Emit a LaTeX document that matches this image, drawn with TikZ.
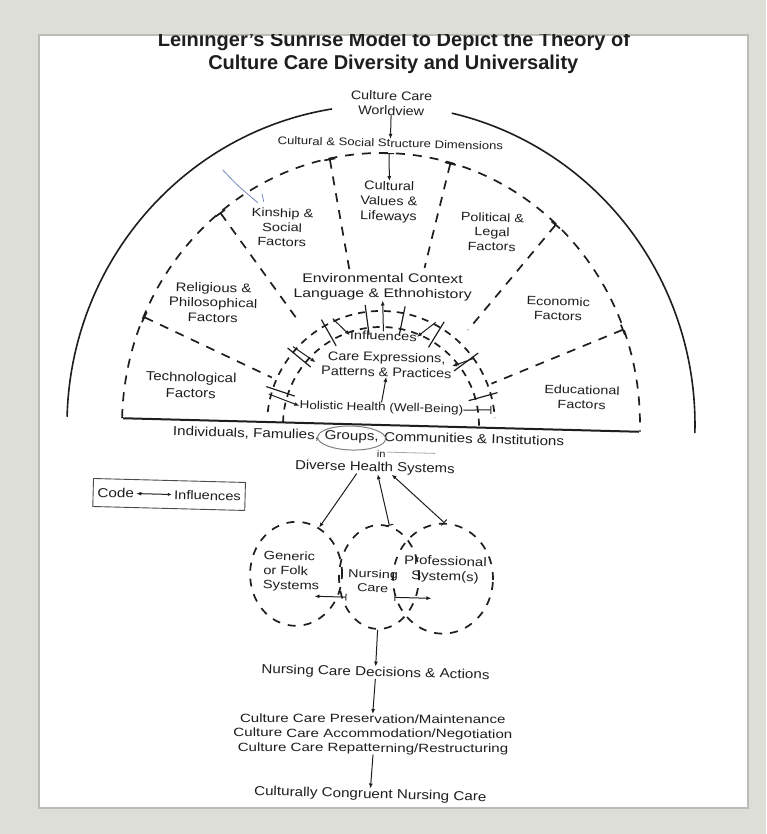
\documentclass[tikz,border=0pt]{standalone}
\usepackage{fontspec}
\setmainfont{Liberation Sans}
\usetikzlibrary{arrows.meta,calc,shapes.geometric}
\definecolor{bggray}{RGB}{222,222,216}
\definecolor{edgegray}{RGB}{188,188,182}
\definecolor{ink}{RGB}{30,30,30}
\definecolor{penblue}{RGB}{120,135,190}
\begin{document}
\begin{tikzpicture}[x=1pt,y=-1pt,
  tx/.style n args={3}{text=ink, align=center, inner sep=0pt, font=\fontsize{#1}{#2}\selectfont, xscale=#3},
  ttl/.style={text=ink, inner sep=0pt, font=\bfseries\fontsize{20}{22}\selectfont},
  solidln/.style={line width=1.6pt, draw=ink},
  dsh/.style={line width=1.7pt, draw=ink, dash pattern=on 9pt off 8pt},
  fine/.style={line width=1pt, draw=ink},
  arr/.style={fine, -{Latex[length=5pt,width=4pt]}},
  circ/.style={draw=ink, line width=1.7pt, dash pattern=on 8pt off 8pt, ellipse, inner sep=0pt},
]
\useasboundingbox (0,0) rectangle (766,834);
\fill[bggray] (0,0) rectangle (766,834);
\fill[white] (39,35) rectangle (748,808);
\draw[edgegray, line width=1.5pt] (39,35) rectangle (748,808);

\begin{scope}
\clip (39,35) rectangle (748,808);
\begin{scope}[rotate around={-1.5:(381,425)}, transform shape]
\coordinate (O) at (381,425);

% title (kept level)
\node[ttl, anchor=base, rotate=1.5] (t1) at (384,46) {Leininger's Sunrise Model to Depict the Theory of};
\node[ttl, anchor=base, rotate=1.5] (t2) at (384,69.5) {Culture Care Diversity and Universality};

% outer arc (two parts)
\draw[solidln] (O) ++(-180:314 and 320) arc[start angle=-180, end angle=-100.5, x radius=314, y radius=320];
\draw[solidln] (O) ++(-78.5:314 and 320) arc[start angle=-78.5, end angle=0, x radius=314, y radius=320];

% middle dashed semicircle
\draw[dsh] (O) ++(-180:259 and 272) arc[start angle=-180, end angle=0, x radius=259, y radius=272];

% sector dividers
\foreach \a/\r in {158/119,130/131,103/158,76/163,49/129,22/118}
  \draw[dsh, {Bar[width=11pt]}-] ($(O)+(-\a:259 and 272)$) -- ($(O)+(-\a:\r)$);

% inner band
\draw[dsh, dash pattern=on 7pt off 6pt] (O) ++(-175:114) arc[start angle=-175, end angle=-5, radius=114];
\draw[dsh, dash pattern=on 7pt off 6pt] (O) ++(-180:98) arc[start angle=-180, end angle=0, radius=98];
\foreach \a in {163,142,121,99,80,60,38,17}
  \draw[solidln, line width=1.2pt] ($(O)+(-\a:91)$) -- ($(O)+(-\a:121)$);

% baseline
\draw[ink, line width=2pt] (123,425) -- (639,425);

% texts in sunrise
\node[tx={12.5}{15}{1.15}] (world) at (383,103) {Culture Care\\Worldview};
\node[tx={11}{13}{1.19}] (dims) at (383,143) {Cultural \& Social Structure Dimensions};
\node[tx={12}{14.5}{1.22}] (kin) at (277,230) {Kinship \&\\Social\\Factors};
\node[tx={12.5}{15}{1.16}] (cval) at (383,202) {Cultural\\Values \&\\Lifeways};
\node[tx={12}{14.5}{1.2}] (pol) at (487,229) {Political \&\\Legal\\Factors};
\node[tx={12.5}{15}{1.2}] (rel) at (210,307) {Religious \&\\Philosophical\\Factors};
\node[tx={12}{14.5}{1.2}] (eco) at (555,304) {Economic\\Factors};
\node[tx={13}{16}{1.15}] (tech) at (190,390) {Technological\\Factors};
\node[tx={12}{14.5}{1.2}] (edu) at (581,392) {Educational\\Factors};
\node[tx={12.5}{15}{1.27}, rotate=1.5] (env) at (379,287) {Environmental Context\\Language \& Ethnohistory};
\node[tx={12}{15}{1.22}] (infl) at (381,336) {Influences};
\node[tx={12.5}{15}{1.15}] (care) at (385,364.5) {Care Expressions,\\Patterns \& Practices};
\node[tx={11.5}{15}{1.17}] (hol) at (381,408) {Holistic Health (Well-Being)};

% connectors in sunrise
\coordinate (ctop) at (382,153);
\draw[arr] (world.south) -- (dims.north);
\draw[fine, {Bar[width=10pt]}-{Latex[length=5pt,width=4pt]}] (ctop) -- (cval.north);
\draw[arr] (infl.north) -- (env.south);
\draw[arr] (hol.north) -- (care.south);
\coordinate (h1) at (268,397);
\draw[arr] (h1) -- (hol.west);
\coordinate (h2) at (491,407);
\draw[fine, -{Bar[width=8pt]}] (hol.east) -- (h2);
\coordinate (c1) at (291,349);
\coordinate (c1e) at (314,364);
\draw[arr] (c1) -- (c1e);
\coordinate (c2) at (472,356);
\draw[arr] (c2) -- (care.east);
\coordinate (i1) at (330,320);
\draw[arr] (i1) -- (infl.west);
\coordinate (i2) at (433,321);
\draw[arr] (i2) -- (infl.east);

% pen mark
\draw[penblue, line width=0.8pt] (216,174) .. controls (232,190) .. (252,206);
\draw[penblue, line width=0.8pt] (256,197) -- (258,205);

% groups line
\node[tx={13}{15}{1.17}, anchor=base] (grp) at (352,441) {Groups,};
\node[tx={13}{15}{1.17}, anchor=base east] (ind) at ([xshift=-5pt]grp.base west) {Individuals, Famulies,};
\node[tx={13}{15}{1.17}, anchor=base west] (com) at ([xshift=5pt]grp.base east) {Communities \& Institutions};
\draw[gray, line width=1pt] ([yshift=-1pt]grp.center) ellipse [x radius=34, y radius=12];
\node[tx={10}{10}{1.1}] (inw) at (382,454) {in};
\coordinate (tl1) at (388,452);
\coordinate (tl2) at (436,452);
\draw[gray!70, line width=0.8pt] (tl1) -- (tl2);
\node[tx={13}{15}{1.15}] (dhs) at (376,468) {Diverse Health Systems};

% code box
\node[draw=ink!80, line width=0.9pt, minimum width=152pt, minimum height=28pt, inner sep=0pt] (codebox) at (171,500) {};
\node[tx={13}{15}{1.18}, anchor=west] (code) at (99,500) {Code};
\node[tx={12.5}{15}{1.17}, anchor=east] (infl2) at (243,500) {Influences};
\draw[fine, {Latex[length=5pt,width=4pt]}-{Latex[length=4pt,width=3pt]}] ([xshift=2pt]code.east) -- ([xshift=-2pt]infl2.west);

% health systems
\node[circ, minimum width=92pt, minimum height=104pt] (genC) at (300,576) {};
\node[circ, minimum width=80pt, minimum height=104pt] (nurC) at (383,577) {};
\node[circ, minimum width=100pt, minimum height=110pt] (proC) at (447,577) {};
\node[tx={12}{14.5}{1.22}, align=left, anchor=west] (genT) at (267,574) {Generic\\or Folk\\Systems};
\node[tx={11.5}{14}{1.25}] (nurT) at (377,581) {Nursing\\Care};
\node[tx={12.5}{15}{1.2}] (proT) at (449,568) {Professional\\System(s)};

\draw[arr] ([xshift=-18pt]dhs.south) -- (genC.65);
\draw[fine, {Latex[length=5pt,width=4pt]}-{Bar[width=8pt]}] ([xshift=3pt]dhs.south) -- (nurC.80);
\draw[fine, {Latex[length=5pt,width=4pt]}-{Bar[width=8pt]}] ([xshift=17pt]dhs.south) -- (proC.north);

\coordinate (ia1) at (319,598);
\coordinate (ib1) at (351,598);
\draw[fine, {Latex[length=5pt,width=4pt]}-{Bar[width=7pt]}] (ia1) -- (ib1);
\coordinate (ia2) at (399,597);
\coordinate (ib2) at (436,597);
\draw[fine, {Bar[width=7pt]}-{Latex[length=5pt,width=4pt]}] (ia2) -- (ib2);

% bottom chain
\node[tx={13}{15}{1.17}] (dec) at (382,673) {Nursing Care Decisions \& Actions};
\node[tx={12}{14.5}{1.26}, rotate=1.5] (pres) at (381,734.5) {Culture Care Preservation/Maintenance\\Culture Care Accommodation/Negotiation\\Culture Care Repatterning/Restructuring};
\node[tx={13}{15}{1.17}] (cong) at (380,795) {Culturally Congruent Nursing Care};
\draw[arr] (nurC.south) -- (dec.north);
\draw[arr] (dec.south) -- (pres.north);
\draw[arr] (pres.south) -- (cong.north);
\end{scope}
\end{scope}
\end{tikzpicture}
\end{document}
